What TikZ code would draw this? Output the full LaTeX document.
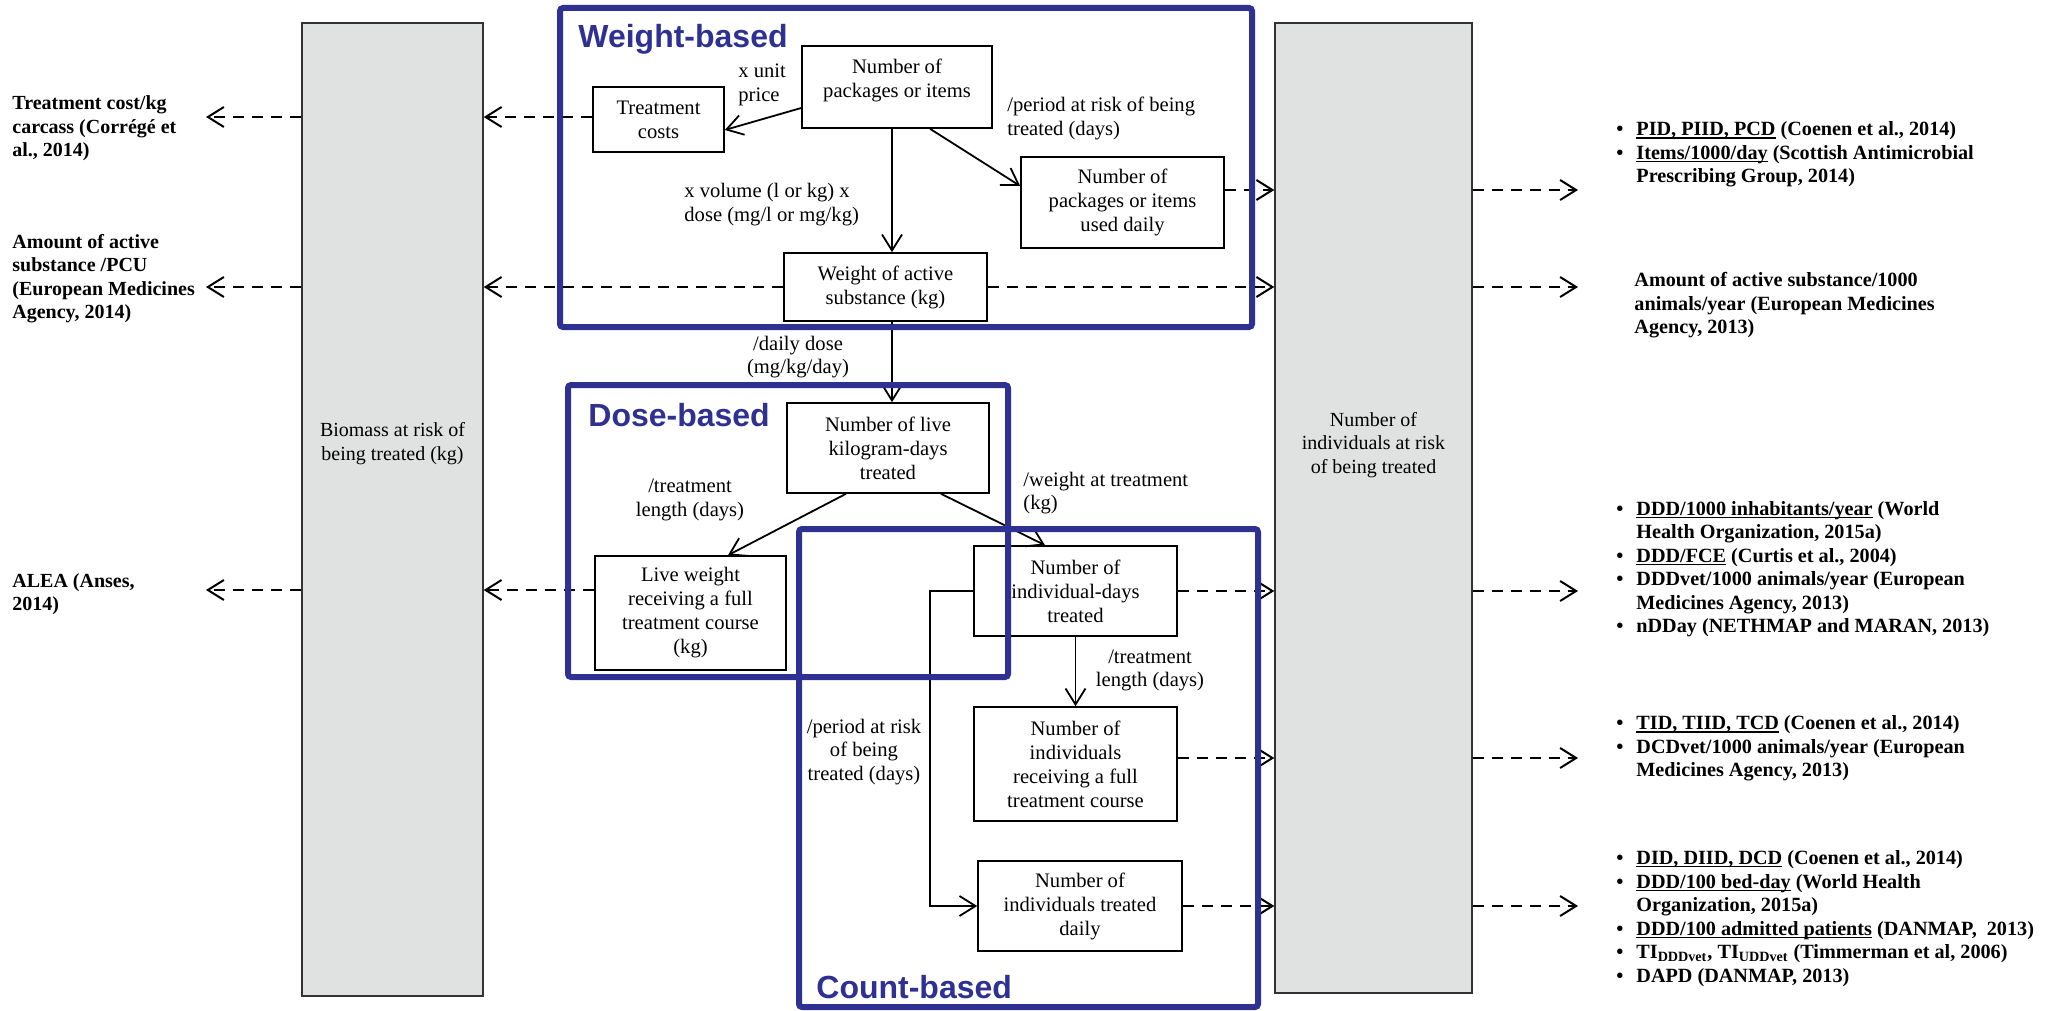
\documentclass[tikz,border=0pt]{standalone}
\usepackage{fontspec}
\setmainfont{Liberation Serif}
\newfontfamily\arialfont{Liberation Sans}
\usetikzlibrary{arrows.meta,calc}
\definecolor{frameblue}{RGB}{46,49,146}
\definecolor{boxgrey}{RGB}{224,226,226}
\newcommand{\bul}{\makebox[10pt][l]{\textbullet}}
\newcommand{\hng}{\hspace*{10pt}}
\newcommand{\ulin}[1]{\setbox0\hbox{#1}\rlap{\rule[-1.4pt]{\wd0}{0.6pt}}\box0\relax}
\begin{document}
\begin{tikzpicture}[x=0.5pt,y=-0.5pt,
  box/.style={draw=black, line width=0.8pt, fill=white, align=center, inner sep=0pt,
    font=\fontsize{10.3}{12}\selectfont},
  lbl/.style={inner sep=0pt, align=left, font=\fontsize{10.3}{11.8}\selectfont},
  greybox/.style={draw=black!80, line width=0.7pt, fill=boxgrey, inner sep=0pt},
  greytext/.style={inner sep=0pt, align=center, font=\fontsize{10}{11.75}\selectfont},
  lt/.style={inner sep=0pt, align=left, anchor=west, font=\bfseries\fontsize{10}{11.75}\selectfont},
  rt/.style={inner sep=0pt, align=left, anchor=west, font=\bfseries\fontsize{10.1}{11.75}\selectfont},
  frame/.style={draw=frameblue, line width=3pt, rounded corners=1.5pt},
  ftitle/.style={font=\arialfont\bfseries\fontsize{16}{18}\selectfont, text=frameblue, inner sep=0pt, anchor=base west},
  arr/.style={line width=0.9pt, -{Straight Barb[length=8pt,width=10pt]}},
  darr/.style={line width=1pt, dash pattern=on 5.5pt off 4pt, -{Straight Barb[length=8pt,width=10pt]}}
]
\useasboundingbox (0,0) rectangle (2060,1011);

% grey columns
\node[greybox, minimum width=90.5pt, minimum height=486.5pt] (bio) at (392.5,509.5) {};
\node[greytext] (biot) at (392.5,443.5) {Biomass at risk of\\being treated (kg)};
\node[greybox, minimum width=98.5pt, minimum height=485pt] (pop) at (1373.5,508) {};
\node[greytext] (popt) at (1373.5,445) {Number of\\individuals at risk\\of being treated};

% boxes
\node[box, minimum width=95pt, minimum height=41pt, text depth=8.8pt] (pkg) at (897,87) {Number of\\packages or items};
\node[box, minimum width=65.5pt, minimum height=32.5pt] (cost) at (658.5,119.5) {Treatment\\costs};
\node[box, minimum width=101.5pt, minimum height=45.5pt] (daily) at (1122.5,202.5) {Number of\\packages or items\\used daily};
\node[box, minimum width=101.5pt, minimum height=34pt] (weight) at (885.5,287) {Weight of active\\substance (kg)};
\node[box, minimum width=101pt, minimum height=45pt] (live) at (888,448) {Number of live\\kilogram-days\\treated};
\node[box, minimum width=95.5pt, minimum height=57pt] (lw) at (690.5,613) {Live weight\\receiving a full\\treatment course\\(kg)};
\node[box, minimum width=101.5pt, minimum height=45pt] (ind) at (1075.5,591) {Number of\\individual-days\\treated};
\node[box, minimum width=101.5pt, minimum height=57pt] (full) at (1075.5,764) {Number of\\individuals\\receiving a full\\treatment course};
\node[box, minimum width=102pt, minimum height=45pt] (tdaily) at (1080,906) {Number of\\individuals treated\\daily};

% connector labels
\node[lbl, anchor=west] (l1) at (738,85) {x unit\\price};
\node[lbl, anchor=west] (l2) at (1007,118.5) {/period at risk of being\\treated (days)};
\node[lbl, anchor=west] (l3) at (684,204.5) {x volume (l or kg) x\\dose (mg/l or mg/kg)};
\node[lbl, align=center] (l4) at (798,357) {/daily dose\\(mg/kg/day)};
\node[lbl, align=center] (l5) at (690,500) {/treatment\\length (days)};
\node[lbl, anchor=west] (l6) at (1023,493) {/weight at treatment\\(kg)};
\node[lbl, align=center] (l7) at (1150,670.5) {/treatment\\length (days)};
\node[lbl, align=center] (l8) at (864,752) {/period at risk\\of being\\treated (days)};

% left texts
\node[lt] (lt1) at (12,128.5) {Treatment cost/kg\\carcass (Corrégé et\\al., 2014)};
\node[lt] (lt2) at (12,278.5) {Amount of active\\substance /PCU\\(European Medicines\\Agency, 2014)};
\node[lt] (lt3) at (12,594) {ALEA (Anses,\\2014)};

% right texts
\node[rt] (rt1) at (1616,154.5) {\bul\ulin{PID, PIID, PCD} (Coenen et al., 2014)\\
\bul\ulin{Items/1000/day} (Scottish Antimicrobial\\
\hng Prescribing Group, 2014)};
\node[rt] (rt2) at (1634,305.5) {Amount of active substance/1000\\animals/year (European Medicines\\Agency, 2013)};
\node[rt] (rt3) at (1616,569) {\bul\ulin{DDD/1000 inhabitants/year} (World\\
\hng Health Organization, 2015a)\\
\bul\ulin{DDD/FCE} (Curtis et al., 2004)\\
\bul DDDvet/1000 animals/year (European\\
\hng Medicines Agency, 2013)\\
\bul nDDay (NETHMAP and MARAN, 2013)};
\node[rt] (rt4) at (1616,748.5) {\bul\ulin{TID, TIID, TCD} (Coenen et al., 2014)\\
\bul DCDvet/1000 animals/year (European\\
\hng Medicines Agency, 2013)};
\node[rt] (rt5) at (1616,918.5) {\bul\ulin{DID, DIID, DCD} (Coenen et al., 2014)\\
\bul\ulin{DDD/100 bed-day} (World Health\\
\hng Organization, 2015a)\\
\bul\ulin{DDD/100 admitted patients} (DANMAP,~~2013)\\
\bul TI\textsubscript{DDDvet}, TI\textsubscript{UDDvet} (Timmerman et al, 2006)\\
\bul DAPD (DANMAP, 2013)};

% solid connectors
\coordinate (v1) at ($(pkg.south)+(-5,0)$);
\draw[arr] ($(pkg.west)+(0,21)$) -- ($(cost.east)+(0,10.5)$);
\draw[arr] ($(pkg.south)+(33,0)$) -- ($(daily.west)+(0,-16.5)$);
\draw[arr] (v1) -- (v1 |- weight.north);
\draw[arr] (v1 |- weight.south) -- (v1 |- live.north);
\draw[arr] ($(live.south)+(-42,0)$) -- ($(lw.north)+(37.5,0)$);
\draw[arr] ($(live.south)+(53,0)$) -- ($(ind.north)+(-30.5,0)$);
\draw[arr] (ind.south) -- (full.north);
\draw[arr] (ind.west) -- ++(-43,0) |- (tdaily.west);

% dashed connectors, left
\coordinate (ya) at ($(cost.west)+(0,-2.5)$);
\coordinate (yc) at ($(lw.west)+(0,-23)$);
\coordinate (LA) at (206,117);
\coordinate (LB) at (206,287);
\coordinate (LC) at (206,590);
\draw[darr] (ya) -- (ya -| bio.east);
\draw[darr] (weight.west) -- (weight.west -| bio.east);
\draw[darr] (yc) -- (yc -| bio.east);
\draw[darr] (LA -| bio.west) -- (LA);
\draw[darr] (LB -| bio.west) -- (LB);
\draw[darr] (LC -| bio.west) -- (LC);

% dashed connectors, right
\coordinate (yd) at ($(daily.east)+(0,-12.5)$);
\coordinate (yf) at ($(full.east)+(0,-6)$);
\coordinate (RD) at (1578,190);
\coordinate (RW) at (1578,287);
\coordinate (RI) at (1578,591);
\coordinate (RF) at (1578,758);
\coordinate (RT) at (1578,906);
\draw[darr] (yd) -- (yd -| pop.west);
\draw[darr] (weight.east) -- (weight.east -| pop.west);
\draw[darr] (ind.east) -- (ind.east -| pop.west);
\draw[darr] (yf) -- (yf -| pop.west);
\draw[darr] (tdaily.east) -- (tdaily.east -| pop.west);
\draw[darr] (RD -| pop.east) -- (RD);
\draw[darr] (RW -| pop.east) -- (RW);
\draw[darr] (RI -| pop.east) -- (RI);
\draw[darr] (RF -| pop.east) -- (RF);
\draw[darr] (RT -| pop.east) -- (RT);

% frames
\draw[frame] (560,8) rectangle (1252,327);
\draw[frame] (568,385) rectangle (1008,677);
\draw[frame] (799,529) rectangle (1258,1007);
\node[ftitle] (tw) at (578,48) {Weight-based};
\node[ftitle] (td) at (588,426) {Dose-based};
\node[ftitle] (tc) at (816,998) {Count-based};
\end{tikzpicture}
\end{document}
